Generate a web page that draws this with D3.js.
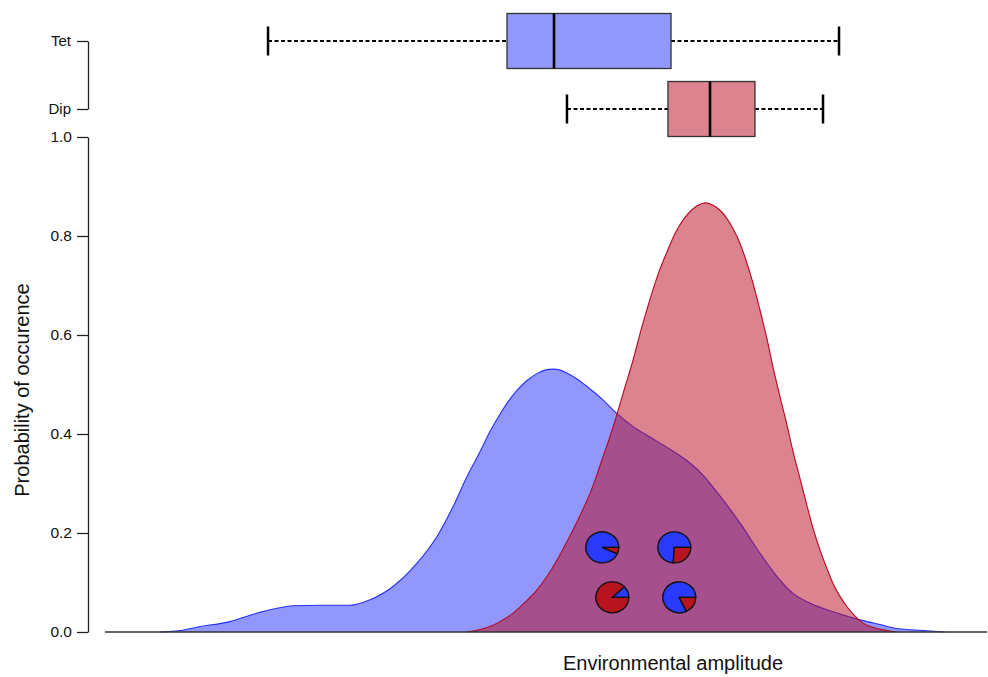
<!DOCTYPE html>
<html>
<head>
<meta charset="utf-8">
<script src="https://cdn.jsdelivr.net/npm/d3@7"></script>
<style>
  body { margin: 0; background: #fff; }
  text { font-family: "Liberation Sans", Arial, sans-serif; fill: #111; }
</style>
</head>
<body>
<div id="chart"></div>
<script>
// --- Data (environmental amplitude, arbitrary units 0-10) ---
const groups = ["Tet", "Dip"];

// density curves
const tetX = [0.632, 0.862, 1.092, 1.437, 1.667, 1.977, 2.161, 2.471, 2.816, 3.046, 3.310, 3.586, 3.816, 4.000, 4.161, 4.310, 4.425, 4.540, 4.632, 4.736, 4.851, 4.966, 5.057, 5.149, 5.230, 5.310, 5.425, 5.540, 5.724, 5.885, 6.069, 6.264, 6.460, 6.690, 6.851, 7.046, 7.299, 7.529, 7.724, 7.908, 8.103, 8.368, 8.713, 8.908, 9.103, 9.402, 9.655];
const tetY = [0, 0.003, 0.011, 0.021, 0.034, 0.048, 0.053, 0.054, 0.054, 0.065, 0.092, 0.139, 0.193, 0.253, 0.314, 0.364, 0.405, 0.440, 0.465, 0.488, 0.508, 0.522, 0.529, 0.531, 0.529, 0.523, 0.511, 0.496, 0.469, 0.441, 0.415, 0.394, 0.373, 0.346, 0.321, 0.280, 0.220, 0.159, 0.112, 0.078, 0.058, 0.041, 0.023, 0.015, 0.007, 0.003, 0];

const dipX = [4.161, 4.310, 4.425, 4.540, 4.690, 4.828, 4.966, 5.080, 5.195, 5.287, 5.379, 5.483, 5.575, 5.655, 5.724, 5.805, 5.885, 5.977, 6.069, 6.161, 6.264, 6.356, 6.460, 6.552, 6.644, 6.747, 6.839, 6.908, 6.989, 7.069, 7.149, 7.218, 7.299, 7.379, 7.448, 7.529, 7.609, 7.678, 7.759, 7.839, 7.908, 7.989, 8.069, 8.138, 8.218, 8.299, 8.368, 8.448, 8.529, 8.621, 8.713, 8.851, 8.989, 9.103];
const dipY = [0, 0.005, 0.011, 0.021, 0.038, 0.060, 0.085, 0.112, 0.145, 0.175, 0.206, 0.244, 0.280, 0.318, 0.354, 0.395, 0.440, 0.495, 0.549, 0.610, 0.672, 0.722, 0.768, 0.805, 0.832, 0.853, 0.864, 0.867, 0.862, 0.852, 0.835, 0.815, 0.785, 0.745, 0.705, 0.650, 0.592, 0.535, 0.475, 0.418, 0.365, 0.310, 0.255, 0.210, 0.166, 0.128, 0.098, 0.072, 0.051, 0.032, 0.018, 0.008, 0.003, 0];

// boxplot stats: [lower whisker, Q1, median, Q3, upper whisker]
const tetBox = [1.874, 4.621, 5.161, 6.506, 8.437];
const dipBox = [5.310, 6.471, 6.954, 7.471, 8.253];

// pies: position and share of Tet / Dip
const pieX = [5.716, 6.544, 5.831, 6.601];
const pieY = [0.171, 0.171, 0.070, 0.070];
const pieTet = [0.93, 0.74, 0.12, 0.82];
const pieDip = [0.07, 0.26, 0.88, 0.18];

const yTicks = [0, 0.2, 0.4, 0.6, 0.8, 1.0];

// --- Colours ---
const blue = "#2530F7", red = "#B7081F";

// --- SVG ---
const W = 988, H = 677;
const svg = d3.select("#chart")
  .append("svg")
    .attr("width", W)
    .attr("height", H);

// --- Scales ---
const x = d3.scaleLinear().domain([0, 10]).range([105, 975]);
const y = d3.scaleLinear().domain([0, 1]).range([632, 137]);
const yBox = d3.scalePoint().domain(groups).range([41, 109]);

// --- Density areas ---
const series = [
  { x: tetX, y: tetY, color: blue },
  { x: dipX, y: dipY, color: red }
];

const area = d3.area()
  .x(d => x(d[0]))
  .y0(y(0))
  .y1(d => y(d[1]))
  .curve(d3.curveMonotoneX);

const line = d3.line()
  .x(d => x(d[0]))
  .y(d => y(d[1]))
  .curve(d3.curveMonotoneX);

series.forEach(s => {
  const pts = s.x.map((v, i) => [v, s.y[i]]);
  svg.append("path")
     .datum(pts)
     .attr("d", area)
     .attr("fill", s.color)
     .attr("fill-opacity", 0.5);
  svg.append("path")
     .datum(pts)
     .attr("d", line)
     .attr("fill", "none")
     .attr("stroke", s.color)
     .attr("stroke-width", 1.1);
});

// --- X baseline ---
svg.append("line")
   .attr("x1", x(0))
   .attr("x2", x(10) + 12)
   .attr("y1", y(0))
   .attr("y2", y(0))
   .attr("stroke", "#333")
   .attr("stroke-width", 1.3);

// --- Pies ---
const pie = d3.pie().sort(null)
  .startAngle(Math.PI / 2)
  .endAngle(Math.PI / 2 - 2 * Math.PI);
const arc = d3.arc().innerRadius(0).outerRadius(1);

pieX.forEach((px, i) => {
  const g = svg.append("g")
    .attr("transform", `translate(${x(px)},${y(pieY[i])}) scale(16.5,15.5)`);
  g.selectAll("path")
   .data(pie([pieTet[i], pieDip[i]]))
   .enter()
   .append("path")
     .attr("d", arc)
     .attr("fill", (d, j) => j === 0 ? "#2A3AFC" : "#B8141F")
     .attr("stroke", "#111")
     .attr("stroke-width", 1.4)
     .attr("vector-effect", "non-scaling-stroke");
});

// --- Y axis ---
const yAxis = svg.append("g")
  .attr("transform", "translate(88,0)")
  .call(d3.axisLeft(y).tickValues(yTicks).tickFormat(d3.format(".1f"))
        .tickSize(11).tickSizeOuter(0).tickPadding(5));
yAxis.selectAll("path, line").attr("stroke", "#222").attr("stroke-width", 1.3);
yAxis.selectAll("text").style("font-size", "15.5px").attr("fill", "#111");

// --- Box plot axis ---
const bAxis = svg.append("g")
  .attr("transform", "translate(88,0)")
  .call(d3.axisLeft(yBox).tickSize(11).tickSizeOuter(0).tickPadding(6));
bAxis.selectAll("path, line").attr("stroke", "#222").attr("stroke-width", 1.3);
bAxis.selectAll("text").style("font-size", "15px").attr("fill", "#111");

// --- Box plots ---
const boxes = [
  { name: "Tet", s: tetBox, fill: "#9298FB" },
  { name: "Dip", s: dipBox, fill: "#DB838F" }
];
const boxH = 55, capH = 29;

boxes.forEach(b => {
  const cy = yBox(b.name);
  const g = svg.append("g");
  // whiskers
  [[b.s[0], b.s[1]], [b.s[3], b.s[4]]].forEach(([a, c]) => {
    g.append("line")
     .attr("x1", x(a)).attr("x2", x(c))
     .attr("y1", cy).attr("y2", cy)
     .attr("stroke", "#000")
     .attr("stroke-width", 2)
     .attr("stroke-dasharray", "4,2.5");
  });
  // caps
  [b.s[0], b.s[4]].forEach(v => {
    g.append("line")
     .attr("x1", x(v)).attr("x2", x(v))
     .attr("y1", cy - capH / 2).attr("y2", cy + capH / 2)
     .attr("stroke", "#000")
     .attr("stroke-width", 2.5);
  });
  // box
  g.append("rect")
   .attr("x", x(b.s[1]))
   .attr("y", cy - boxH / 2)
   .attr("width", x(b.s[3]) - x(b.s[1]))
   .attr("height", boxH)
   .attr("fill", b.fill)
   .attr("stroke", "#333")
   .attr("stroke-width", 1.3);
  // median
  g.append("line")
   .attr("x1", x(b.s[2])).attr("x2", x(b.s[2]))
   .attr("y1", cy - boxH / 2).attr("y2", cy + boxH / 2)
   .attr("stroke", "#000")
   .attr("stroke-width", 2.6);
});

// --- Axis titles ---
svg.append("text")
   .attr("x", 673)
   .attr("y", 670)
   .attr("text-anchor", "middle")
   .style("font-size", "20px")
   .text("Environmental amplitude");

svg.append("text")
   .attr("transform", "translate(29,390) rotate(-90)")
   .attr("text-anchor", "middle")
   .style("font-size", "20px")
   .text("Probability of occurence");
</script>
</body>
</html>
